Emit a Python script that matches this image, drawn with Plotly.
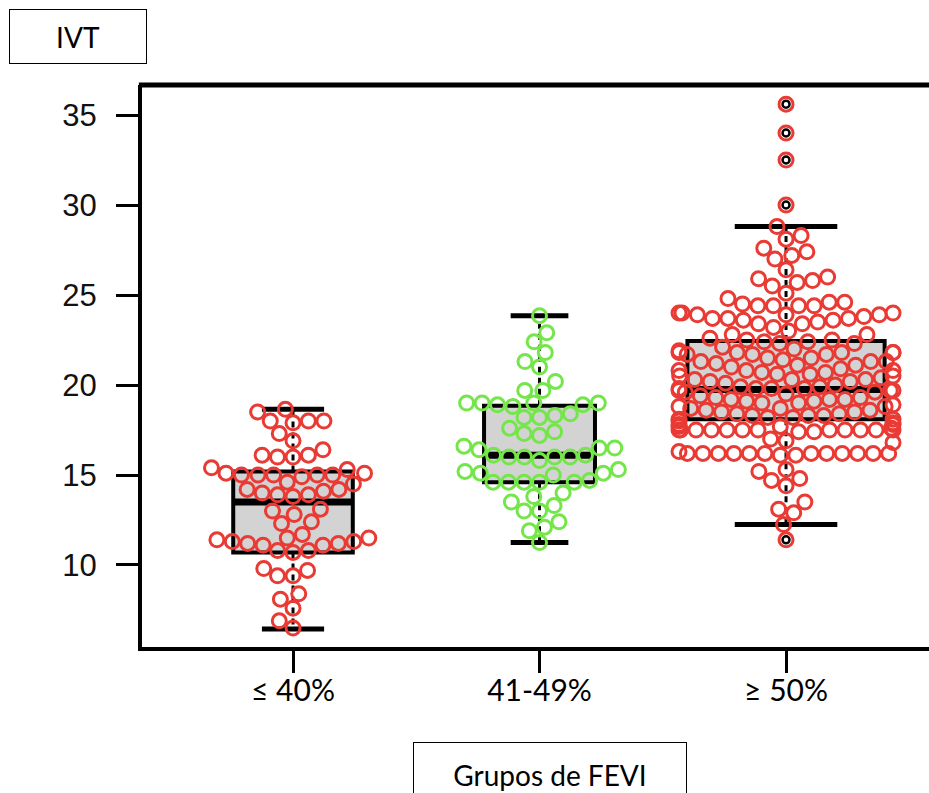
import math
import numpy as np
import plotly.graph_objects as go

# ---------------- data ----------------
categories = ["≤ 40%", "41-49%", "≥ 50%"]

ivt_le40 = [18.65, 18.5, 18.0, 18.0, 18.0, 17.9, 17.3, 16.9, 16.4, 16.1, 16.1, 16.0, 16.0,
            15.4, 15.3, 15.1, 15.1, 15.0, 15.0, 15.0, 15.0, 15.0, 14.9, 14.6, 14.5,
            14.2, 14.2, 14.1, 14.0, 13.9, 13.9, 13.8,
            13.1, 13.0, 12.8, 12.4, 12.3,
            11.7, 11.5, 11.5, 11.4, 11.3, 11.3, 11.2, 11.2, 11.1, 11.1, 10.8, 10.8, 10.7,
            9.8, 9.7, 9.4, 9.4, 8.4, 8.1, 7.6, 6.9, 6.5]

ivt_41_49 = [23.85, 22.9, 22.4, 21.8, 21.3, 21.0, 20.2, 19.7, 19.7,
             19.0, 19.0, 19.0, 19.0, 18.9, 18.9, 18.8,
             18.4, 18.3, 18.2, 18.2,
             17.6, 17.4, 17.3, 17.2,
             16.6, 16.5, 16.5, 16.4,
             16.1, 16.1, 16.0, 16.0, 16.0, 16.0, 15.8,
             15.3, 15.2, 15.1, 15.1, 15.0,
             14.7, 14.6, 14.6, 14.6, 14.6, 14.6,
             14.0, 13.8, 13.5, 13.3, 13.0, 13.0, 12.4, 12.1, 11.9, 11.25]

ivt_ge50 = [35.6, 34.0, 32.5, 30.0, 28.8, 28.3, 28.1, 27.6, 27.4, 27.2, 27.0, 26.4, 26.0,
            25.9, 25.8, 25.7, 25.5, 25.1,
            24.8, 24.6, 24.6, 24.5, 24.4, 24.4, 24.4, 24.4,
            24.0, 24.0, 24.0, 23.9, 23.9, 23.9, 23.8, 23.7, 23.7, 23.7, 23.6, 23.6, 23.5,
            23.4, 23.4, 23.2, 23.0,
            22.8, 22.8, 22.6, 22.5, 22.5,
            22.4, 22.4, 22.3, 22.3, 22.1, 22.0, 21.9,
            21.8, 21.8, 21.8, 21.8, 21.8, 21.7, 21.7, 21.7,
            21.5, 21.5, 21.4, 21.3, 21.3, 21.3, 21.2, 21.1, 21.1, 21.0,
            20.9, 20.8, 20.8, 20.8, 20.7, 20.7, 20.6, 20.6, 20.5, 20.5,
            20.4, 20.3, 20.3, 20.3, 20.2, 20.2, 20.1, 20.0,
            19.9, 19.9, 19.8, 19.8, 19.8, 19.8, 19.7, 19.7, 19.7, 19.6, 19.6, 19.5,
            19.4, 19.3, 19.3, 19.2, 19.2, 19.2, 19.1, 19.1, 19.0, 19.0,
            18.9, 18.8, 18.8, 18.7, 18.7, 18.6, 18.6, 18.5, 18.5, 18.4,
            18.4, 18.3, 18.3, 18.3, 18.2, 18.2, 18.1, 18.1,
            18.0, 17.9, 17.8, 17.8, 17.7, 17.7,
            17.6, 17.5, 17.5, 17.5, 17.5, 17.5, 17.5, 17.5, 17.5, 17.5, 17.5, 17.5, 17.5, 17.4, 17.4,
            17.0, 16.9, 16.8,
            16.3, 16.2, 16.2, 16.2, 16.2, 16.2, 16.2, 16.2, 16.2, 16.2, 16.2, 16.2, 16.2, 16.1, 16.1,
            15.3, 15.2, 14.8, 14.7, 14.4, 13.5, 13.1, 12.9, 12.25, 11.4]

box_q1 = [10.7, 14.6, 18.1]
box_median = [13.5, 16.1, 19.75]
box_q3 = [15.2, 18.85, 22.44]
whisker_low = [6.45, 11.25, 12.25]
whisker_high = [18.65, 23.85, 28.8]

y_ticks = [10, 15, 20, 25, 30, 35]

groups = [ivt_le40, ivt_41_49, ivt_ge50]

# ---------------- layout / style constants ----------------
W, H = 929, 793
ML, MR, MT, MB = 142, 0, 85, 146
X_RANGE = [-0.6126, 2.580]
Y_RANGE = [5.444, 36.667]
plot_w = W - ML - MR
plot_h = H - MT - MB
ppx = plot_w / (X_RANGE[1] - X_RANGE[0])   # pixels per x unit
ppy = plot_h / (Y_RANGE[1] - Y_RANGE[0])   # pixels per y unit

RED = "rgb(233,58,52)"
GREEN = "rgb(116,230,74)"
point_colors = [RED, GREEN, RED]
box_widths = [0.485, 0.45, 0.80]
cap_ratio = 0.52
DIAM = 15.5          # swarm collision distance (px)
CORRAL = 107         # gutter half width (px)


def swarm_offsets(vals):
    ys = np.asarray(vals, float) * ppy
    order = np.argsort(ys, kind="stable")
    px, py = [], []
    out = np.zeros(len(ys))
    for k in order:
        y = ys[k]
        cands = [0.0]
        for xj, yj in zip(px, py):
            dy = abs(y - yj)
            if dy < DIAM:
                dx = math.sqrt(DIAM * DIAM - dy * dy)
                cands.extend((xj - dx, xj + dx))
        cands.sort(key=lambda c: (abs(c), c))
        chosen = 0.0
        for c in cands:
            if all((c - xj) ** 2 + (y - yj) ** 2 >= DIAM * DIAM - 1e-6 for xj, yj in zip(px, py)):
                chosen = c
                break
        px.append(chosen)
        py.append(y)
        out[k] = chosen
    return np.clip(out, -CORRAL, CORRAL)


fig = go.Figure()

# boxes
for i in range(3):
    fig.add_trace(go.Box(
        x=[i], q1=[box_q1[i]], median=[box_median[i]], q3=[box_q3[i]],
        lowerfence=[box_q1[i]], upperfence=[box_q3[i]],
        width=box_widths[i], whiskerwidth=0, boxpoints=False,
        fillcolor="#D3D3D3", line=dict(color="black", width=4),
        hoverinfo="skip"))

# whiskers, caps, medians
for i in range(3):
    fig.add_trace(go.Scatter(
        x=[i, i, None, i, i],
        y=[box_q3[i], whisker_high[i], None, box_q1[i], whisker_low[i]],
        mode="lines", line=dict(color="black", width=3, dash="6px,5px"),
        hoverinfo="skip"))
    cw = box_widths[i] * cap_ratio / 2
    fig.add_trace(go.Scatter(
        x=[i - cw, i + cw, None, i - cw, i + cw],
        y=[whisker_high[i], whisker_high[i], None, whisker_low[i], whisker_low[i]],
        mode="lines", line=dict(color="black", width=5), hoverinfo="skip"))
    bw = box_widths[i] / 2
    fig.add_trace(go.Scatter(
        x=[i - bw, i + bw], y=[box_median[i], box_median[i]],
        mode="lines", line=dict(color="black", width=7), hoverinfo="skip"))

# swarm points
for i, vals in enumerate(groups):
    offs = swarm_offsets(vals)
    xs = i + offs / ppx
    fig.add_trace(go.Scatter(
        x=xs, y=vals, mode="markers",
        marker=dict(symbol="circle-open", size=14, color=point_colors[i],
                    line=dict(width=3, color=point_colors[i])),
        hoverinfo="y"))
    v = np.asarray(vals)
    mask = (v > whisker_high[i]) | (v < whisker_low[i])
    if mask.any():
        fig.add_trace(go.Scatter(
            x=xs[mask], y=v[mask], mode="markers",
            marker=dict(symbol="circle-open", size=7, color="black",
                        line=dict(width=2.5, color="black")),
            hoverinfo="skip"))

fig.update_layout(
    width=W, height=H, margin=dict(l=ML, r=MR, t=MT, b=MB),
    paper_bgcolor="white", plot_bgcolor="white", showlegend=False,
    xaxis=dict(range=X_RANGE, tickvals=[0, 1, 2], ticktext=categories,
               ticks="outside", ticklen=22, tickwidth=3, tickcolor="black",
               showline=True, linecolor="black", linewidth=4,
               showgrid=False, zeroline=False, ticklabelstandoff=-8,
               tickfont=dict(family="Lato", size=30, color="black")),
    yaxis=dict(range=Y_RANGE, tickvals=y_ticks, ticks="outside", ticklen=22,
               tickwidth=3, tickcolor="black", showline=True, linecolor="black",
               linewidth=4, showgrid=False, zeroline=False, ticklabelstandoff=13,
               tickfont=dict(family="Liberation Sans, Arial", size=31, color="#111")),
    shapes=[dict(type="line", xref="paper", yref="paper", x0=-0.004, x1=1.0,
                 y0=1, y1=1, line=dict(color="black", width=5))],
    annotations=[
        dict(text="IVT", xref="paper", yref="paper",
             x=(78 - ML) / plot_w, y=(H - MB - 36.5) / plot_h,
             xanchor="center", yanchor="middle", showarrow=False,
             width=136, height=53, borderpad=0, bordercolor="black", borderwidth=1,
             font=dict(family="Lato", size=28, color="black")),
        dict(text="Grupos de FEVI", xref="paper", yref="paper",
             x=(550 - ML) / plot_w, y=(H - MB - 775) / plot_h,
             xanchor="center", yanchor="middle", showarrow=False,
             width=272, height=64, borderpad=0, bordercolor="black", borderwidth=1,
             font=dict(family="Lato", size=28, color="black")),
    ],
)

fig.write_html("out.html", config={"displayModeBar": False},
               post_script="document.body.style.margin='0';")
